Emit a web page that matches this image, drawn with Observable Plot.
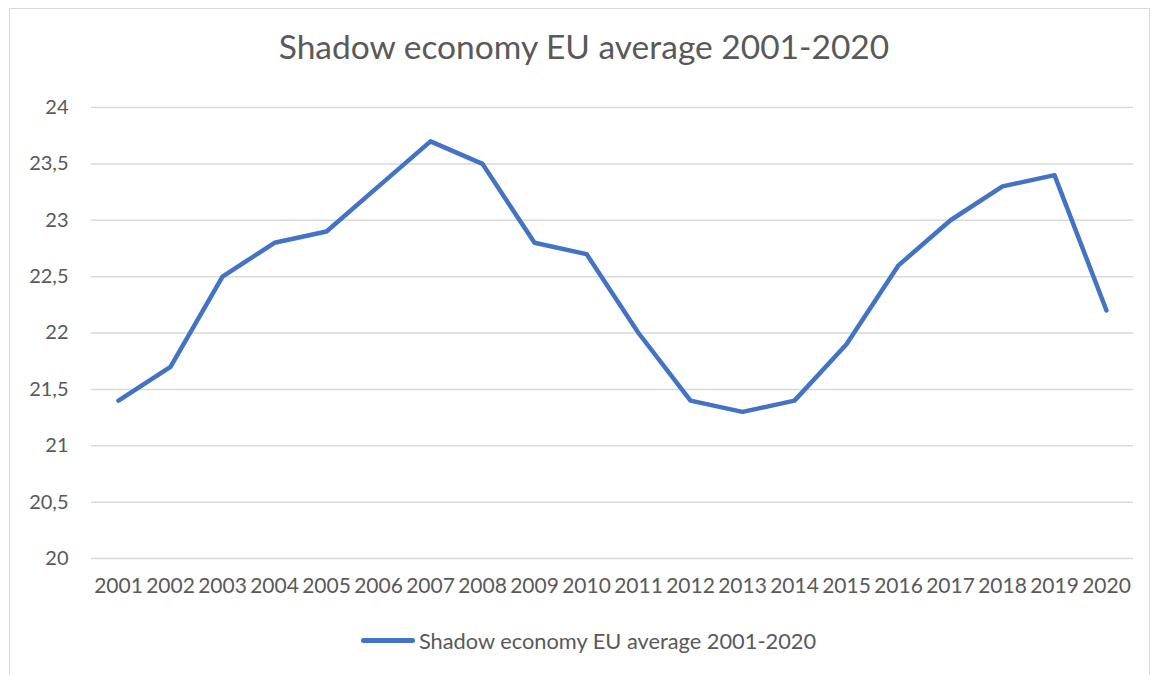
<!DOCTYPE html>
<html>
<head>
<meta charset="utf-8">
<script src="https://cdn.jsdelivr.net/npm/d3@7"></script>
<script src="https://cdn.jsdelivr.net/npm/@observablehq/plot@0.6"></script>
<style>
  html, body { margin: 0; padding: 0; background: #fff; }
  #wrap { position: relative; width: 1153px; height: 675px; overflow: hidden; font-family: Lato, "Open Sans", sans-serif; color: #595959; }
  #frame { position: absolute; left: 9px; top: 8px; width: 1141px; height: 720px; border: 1px solid #d9d9d9; box-sizing: border-box; }
  #title { position: absolute; left: 0; width: 1168px; top: 26px; text-align: center; font-size: 33.5px; color: #595959; }
  #chart { position: absolute; left: 0; top: 90px; }
  #legend { position: absolute; left: 12px; width: 1153px; top: 627px; display: flex; justify-content: center; align-items: center; font-size: 21.8px; color: #595959; }
  #legend .sw { width: 54px; height: 5px; border-radius: 3px; background: #4472c4; margin-right: 4px; margin-left: 0px; }
</style>
</head>
<body>
<div id="wrap">
  <div id="frame"></div>
  <div id="title">Shadow economy EU average 2001-2020</div>
  <div id="chart"></div>
  <div id="legend"><span class="sw"></span><span>Shadow economy EU average 2001-2020</span></div>
</div>
<script>
const years = ["2001","2002","2003","2004","2005","2006","2007","2008","2009","2010","2011","2012","2013","2014","2015","2016","2017","2018","2019","2020"];
const values = [21.4, 21.7, 22.5, 22.8, 22.9, 23.3, 23.7, 23.5, 22.8, 22.7, 22.0, 21.4, 21.3, 21.4, 21.9, 22.6, 23.0, 23.3, 23.4, 22.2];
const yTicks = [20, 20.5, 21, 21.5, 22, 22.5, 23, 23.5, 24];
const seriesName = "Shadow economy EU average 2001-2020";

const data = years.map((y, i) => ({year: y, value: values[i]}));

const chart = Plot.plot({
  width: 1153,
  height: 525,
  marginLeft: 91,
  marginRight: 20,
  marginTop: 17,
  marginBottom: 57,
  style: { fontFamily: "Lato, 'Open Sans', sans-serif", fontSize: "20px", color: "#595959", background: "transparent", overflow: "visible" },
  x: { type: "point", domain: years, padding: 0.5, label: null },
  y: { domain: [20, 24], label: null },
  marks: [
    Plot.ruleY(yTicks, { stroke: "#d9d9d9", strokeWidth: 1.5 }),
    Plot.axisY(yTicks, { tickSize: 0, tickPadding: 23, tickFormat: d => String(d).replace(".", ","), fill: "#595959", fontSize: 20 }),
    Plot.axisX(years, { tickSize: 0, tickPadding: 20, fill: "#595959", fontSize: 21 }),
    Plot.line(data, { x: "year", y: "value", stroke: "#4472c4", strokeWidth: 4.5, strokeLinejoin: "round", strokeLinecap: "round" })
  ]
});
document.getElementById("chart").appendChild(chart);
</script>
</body>
</html>
